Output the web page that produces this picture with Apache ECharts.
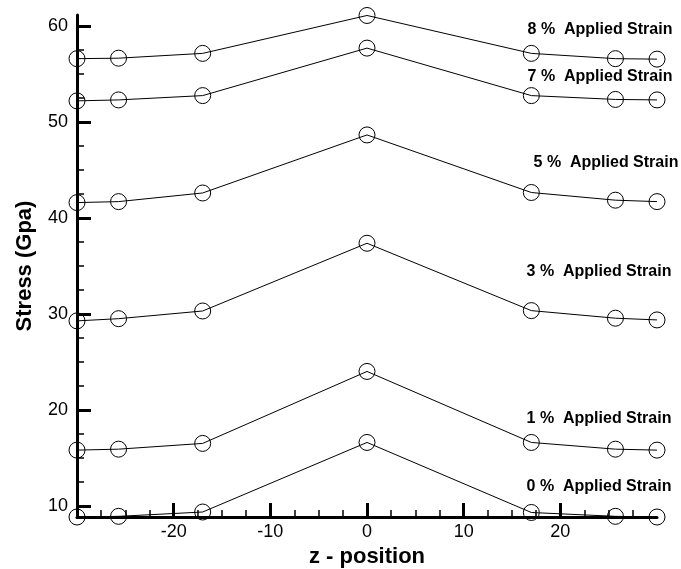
<!DOCTYPE html>
<html>
<head>
<meta charset="utf-8">
<script src="https://cdn.jsdelivr.net/npm/echarts@6/dist/echarts.min.js"></script>
<style>
  html, body { margin: 0; padding: 0; background: #fff; }
  #chart { width: 681px; height: 569px; }
</style>
</head>
<body>
<div id="chart"></div>
<script>
// z positions of the sampled points
const zPos = [-30, -25.7, -17, 0, 17, 25.7, 30];

// Stress (GPa) for each applied strain level
const strain0 = [8.83, 8.9, 9.35, 16.6, 9.3, 8.9, 8.83];
const strain1 = [15.8, 15.9, 16.5, 24.0, 16.6, 15.9, 15.8];
const strain3 = [29.27, 29.5, 30.3, 37.36, 30.34, 29.55, 29.37];
const strain5 = [41.6, 41.7, 42.6, 48.65, 42.65, 41.85, 41.7];
const strain7 = [52.2, 52.3, 52.75, 57.7, 52.75, 52.35, 52.3];
const strain8 = [56.6, 56.65, 57.15, 61.1, 57.15, 56.6, 56.55];

const seriesNames = ['0 %', '1 %', '3 %', '5 %', '7 %', '8 %'];
const seriesValues = [strain0, strain1, strain3, strain5, strain7, strain8];

// tick labels
const xTickLabels = [-20, -10, 0, 10, 20];
const yTickLabels = [10, 20, 30, 40, 50, 60];
const xMinorTicks = [-27.5, -25, -22.5, -17.5, -15, -12.5, -7.5, -5, -2.5,
                     2.5, 5, 7.5, 12.5, 15, 17.5, 22.5, 25, 27.5];
const yMinorTicks = [12.5, 15, 17.5, 22.5, 25, 27.5, 32.5, 35, 37.5,
                     42.5, 45, 47.5, 52.5, 55, 57.5];

// curve annotations
const annotationTexts = ['0 %  Applied Strain', '1 %  Applied Strain', '3 %  Applied Strain',
                         '5 %  Applied Strain', '7 %  Applied Strain', '8 %  Applied Strain'];

const FONT = '"Liberation Sans", Arial, Helvetica, sans-serif';
const X_MIN = -30, X_MAX = 30, Y_MIN = 8.83, Y_MAX = 61.15;

const chart = echarts.init(document.getElementById('chart'), null, { renderer: 'canvas' });

const series = seriesValues.map((vals, i) => ({
  name: seriesNames[i],
  type: 'line',
  xAxisIndex: 0,
  yAxisIndex: 0,
  data: vals.map((v, k) => [zPos[k], v]),
  symbol: 'circle',
  symbolSize: 16,
  showAllSymbol: true,
  clip: false,
  lineStyle: { color: '#000', width: 1 },
  itemStyle: { color: 'transparent', borderColor: '#000', borderWidth: 1 },
  emphasis: { disabled: true },
  z: 3
}));

// annotation placement (pixel centres)
const annotationPos = [[599, 487], [599, 419], [599, 272], [606, 163], [600, 77], [600, 30]];

const option = {
  backgroundColor: '#fff',
  animation: false,
  grid: { left: 77, right: 24, top: 15, bottom: 52, outerBoundsMode: 'none' },
  xAxis: [
    {
      type: 'value', min: X_MIN, max: X_MAX, position: 'bottom',
      name: 'z - position', nameLocation: 'middle', nameGap: 21,
      nameTextStyle: { fontFamily: FONT, fontWeight: 'bold', fontSize: 22, color: '#000' },
      axisLine: { show: true, onZero: false, lineStyle: { color: '#000', width: 3 } },
      axisTick: { show: true, inside: true, length: 14, customValues: xTickLabels,
                  lineStyle: { color: '#000', width: 3 } },
      axisLabel: { show: true, customValues: xTickLabels, margin: 6,
                   fontFamily: FONT, fontSize: 18, color: '#000' },
      splitLine: { show: false }
    },
    {
      type: 'value', min: X_MIN, max: X_MAX, position: 'bottom',
      axisLine: { show: false, onZero: false },
      axisTick: { show: true, inside: true, length: 7, customValues: xMinorTicks,
                  lineStyle: { color: '#000', width: 1.5 } },
      axisLabel: { show: false },
      splitLine: { show: false }
    }
  ],
  yAxis: [
    {
      type: 'value', min: Y_MIN, max: Y_MAX, position: 'left',
      name: 'Stress (Gpa)', nameLocation: 'middle', nameGap: 41, nameRotate: 90,
      nameTextStyle: { fontFamily: FONT, fontWeight: 'bold', fontSize: 22, color: '#000' },
      axisLine: { show: true, onZero: false, lineStyle: { color: '#000', width: 3 } },
      axisTick: { show: true, inside: true, length: 14, customValues: yTickLabels,
                  lineStyle: { color: '#000', width: 3 } },
      axisLabel: { show: true, customValues: yTickLabels, margin: 9,
                   fontFamily: FONT, fontSize: 18, color: '#000' },
      splitLine: { show: false }
    },
    {
      type: 'value', min: Y_MIN, max: Y_MAX, position: 'left',
      axisLine: { show: false, onZero: false },
      axisTick: { show: true, inside: true, length: 7, customValues: yMinorTicks,
                  lineStyle: { color: '#000', width: 1.5 } },
      axisLabel: { show: false },
      splitLine: { show: false }
    }
  ],
  graphic: annotationTexts.map((t, i) => ({
    type: 'text',
    x: annotationPos[i][0],
    y: annotationPos[i][1],
    z: 10,
    style: {
      text: t,
      fill: '#000',
      font: 'bold 16px ' + FONT,
      textAlign: 'center',
      textVerticalAlign: 'middle'
    }
  })),
  series: series
};

chart.setOption(option);
</script>
</body>
</html>
